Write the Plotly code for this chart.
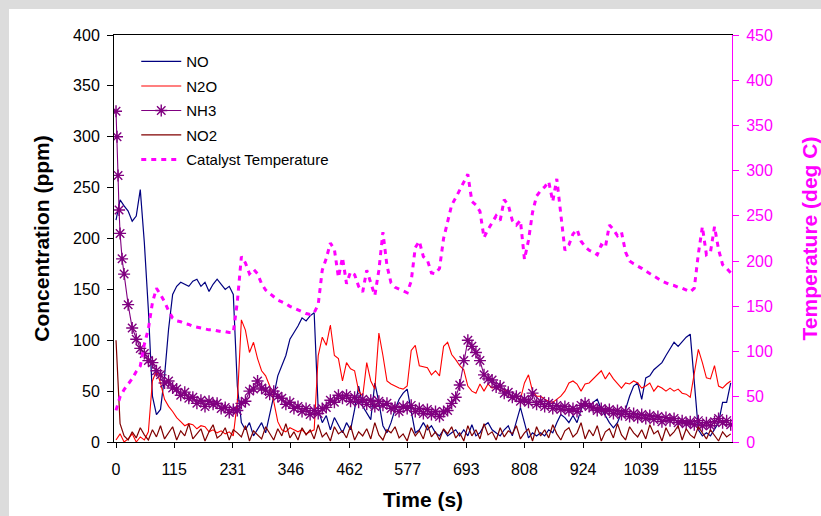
import plotly.graph_objects as go

# ---------------- data ----------------
time_s = list(range(0, 1217, 8))  # sampling grid, 153 points

no_ppm = [
    218, 238, 232, 227, 217, 222, 248, 196, 130, 45,
    27, 32, 65, 111, 145, 153, 157, 155, 153, 158,
    160, 153, 157, 148, 155, 160, 155, 150, 153, 145,
    55, 19, 12, 19, 6, 12, 19, 9, 26, 45,
    65, 75, 85, 101, 107, 114, 122, 119, 124, 127,
    32, 19, 26, 12, 24, 16, 9, 19, 12, 32,
    55, 35, 29, 22, 58, 39, 16, 9, 19, 32,
    42, 48, 52, 32, 9, 12, 19, 12, 16, 9,
    6, 12, 6, 9, 12, 6, 12, 6, 17, 6,
    9, 16, 19, 12, 9, 6, 12, 16, 6, 19,
    34, 19, 4, 9, 6, 9, 6, 12, 9, 19,
    27, 24, 19, 26, 19, 32, 39, 34, 39, 42,
    32, 26, 19, 14, 19, 29, 32, 45, 55, 58,
    42, 63, 65, 71, 75, 78, 85, 91, 98, 94,
    99, 103, 106, 55, 12, 6, 9, 6, 12, 19,
    39, 39, 58,
]

n2o_ppm = [
    2, 8, 0, 3, 8, 0, 5, 2, 10, 60,
    70, 58, 42, 35, 30, 24, 20, 16, 18, 17,
    13, 16, 15, 10, 12, 9, 11, 8, 10, 6,
    40, 120, 110, 88, 98, 82, 70, 65, 55, 40,
    20, 12, 10, 14, 12, 10, 12, 8, 10, 12,
    85, 103, 95, 115, 85, 82, 60, 78, 72, 70,
    50, 45, 78, 60, 52, 107, 85, 60, 57, 55,
    53, 52, 55, 90, 95, 75, 74, 73, 66, 70,
    65, 94, 98, 86, 81, 75, 71, 55, 50, 48,
    57, 50, 57, 53, 55, 50, 52, 47, 45, 44,
    42, 58, 66, 50, 45, 45, 42, 40, 39, 42,
    45, 50, 58, 60, 57, 50, 57, 58, 62, 66,
    70, 62, 68, 62, 58, 53, 58, 57, 60, 58,
    53, 55, 58, 50, 55, 53, 50, 53, 50, 52,
    48, 47, 44, 68, 91, 78, 63, 62, 75, 55,
    53, 57, 60,
]

no2_ppm = [
    100, 18, 6, 2, 10, 4, 14, 7, 2, 12,
    5, 16, 3, 9, 15, 2, 11, 6, 18, 3,
    8, 13, 1, 10, 17, 4, 7, 14, 2, 12,
    9, 5, 16, 1, 11, 7, 3, 15, 8, 2,
    13, 6, 18, 4, 10, 2, 14, 7, 12, 3,
    17, 5, 9, 1, 15, 8, 11, 4, 16, 2,
    10, 6, 13, 3, 19, 7, 2, 12, 9, 15,
    4, 8, 1, 14, 6, 11, 3, 17, 5, 10,
    2, 13, 8, 15, 4, 9, 1, 16, 6, 12,
    3, 18, 7, 10, 2, 14, 5, 11, 8, 16,
    3, 9, 13, 1, 15, 6, 12, 4, 17, 8,
    2, 11, 14, 5, 9, 19, 3, 12, 6, 16,
    1, 10, 13, 4, 18, 7, 2, 15, 9, 5,
    12, 3, 17, 8, 11, 1, 14, 6, 10, 16,
    2, 13, 7, 4, 15, 9, 3, 12, 6, 1,
    10, 5, 8,
]

nh3_time_s = [0, 2, 4, 6, 8, 12] + list(range(16, 1217, 8))
nh3_ppm = [
    325, 300, 262, 228, 205, 180,
    165, 135, 112, 101, 92, 87, 80, 78,
    70, 66, 58, 60, 53, 52, 46, 49, 43, 44,
    38, 41, 35, 40, 37, 38, 33, 34, 29, 32,
    31, 38, 40, 50, 52, 60, 53, 51, 47, 50,
    45, 43, 37, 39, 33, 35, 30, 33, 27, 31,
    28, 33, 34, 41, 39, 46, 43, 46, 40, 44,
    39, 42, 37, 41, 35, 40, 36, 38, 33, 34,
    30, 35, 33, 36, 30, 33, 28, 32, 27, 30,
    25, 30, 31, 38, 44, 56, 80, 100, 94, 88,
    80, 66, 62, 61, 54, 55, 48, 49, 44, 45,
    40, 42, 39, 48, 37, 40, 35, 38, 33, 36,
    32, 35, 31, 33, 30, 36, 38, 35, 34, 31,
    33, 30, 32, 28, 31, 27, 30, 25, 28, 24,
    27, 23, 26, 22, 25, 20, 24, 21, 23, 19,
    21, 18, 20, 17, 21, 16, 19, 16, 20, 23,
    19, 21, 17,
]

cat_temp_c = [
    35, 50, 58, 64, 70, 78, 84, 108, 125, 154,
    170, 163, 155, 145, 137, 134, 133, 131, 130, 128,
    127, 126, 125, 124, 124, 123, 122, 122, 121, 121,
    155, 205, 198, 186, 191, 186, 175, 168, 164, 160,
    157, 155, 153, 150, 148, 146, 144, 142, 141, 143,
    152, 190, 203, 220, 213, 182, 204, 175, 188, 185,
    172, 166, 190, 176, 162, 190, 232, 195, 176, 171,
    169, 167, 165, 178, 215, 222, 205, 201, 187, 186,
    192, 225, 245, 262, 270, 279, 288, 296, 266, 262,
    255, 226, 235, 242, 250, 245, 268, 262, 245, 240,
    245, 202, 223, 254, 272, 278, 282, 288, 266, 291,
    250, 212, 218, 230, 235, 222, 216, 212, 210, 207,
    218, 215, 240, 235, 228, 232, 210, 200, 197, 194,
    192, 189, 186, 184, 181, 178, 176, 174, 173, 171,
    170, 168, 166, 170, 208, 238, 207, 210, 238, 213,
    196, 192, 187,
]

x_tick_vals = [0, 115, 231, 346, 462, 577, 693, 808, 924, 1039, 1155]
x_tick_text = ["0", "115", "231", "346", "462", "577", "693", "808", "924", "1039", "1155"]

# ---------------- figure ----------------
FONT = "Liberation Sans, Arial, sans-serif"
MAG = "#FF00FF"

fig = go.Figure()
fig.add_trace(go.Scatter(x=time_s, y=no_ppm, name="NO", mode="lines",
                         line=dict(color="#000080", width=1.2), legendgroup="a"))
fig.add_trace(go.Scatter(x=time_s, y=n2o_ppm, name="N2O", mode="lines",
                         line=dict(color="#FF0000", width=1.1), legendgroup="b"))
fig.add_trace(go.Scatter(x=nh3_time_s, y=nh3_ppm, name="NH3", mode="lines+markers",
                         line=dict(color="#800080", width=1.1),
                         marker=dict(symbol="asterisk-open", size=10,
                                     line=dict(color="#800080", width=1.4)),
                         legendgroup="c"))
fig.add_trace(go.Scatter(x=time_s, y=no2_ppm, name="NO2", mode="lines",
                         line=dict(color="#800000", width=1.2), legendgroup="d"))
fig.add_trace(go.Scatter(x=time_s, y=cat_temp_c, name="Catalyst Temperature", mode="lines",
                         line=dict(color=MAG, width=3, dash="5px,5px"),
                         yaxis="y2", legendgroup="e"))

fig.update_layout(
    width=821, height=516, autosize=False,
    margin=dict(l=114, r=89, t=35, b=74, pad=0),
    paper_bgcolor="#dcdcdc", plot_bgcolor="white",
    font=dict(family=FONT, size=16, color="black"),
    showlegend=True,
    legend=dict(x=0.036, y=0.975, xanchor="left", yanchor="top",
                bgcolor="rgba(0,0,0,0)", borderwidth=0,
                font=dict(family=FONT, size=15, color="black"),
                tracegroupgap=2, itemwidth=40),
    xaxis=dict(range=[-4, 1218.6], tickvals=x_tick_vals, ticktext=x_tick_text,
               automargin=False,
               showgrid=False, zeroline=False, showline=True, linecolor="black",
               linewidth=1, mirror=True, ticks="outside", ticklen=5, tickcolor="black",
               tickfont=dict(family=FONT, size=16, color="black"),
               ticklabelstandoff=8,
               title=dict(text="<b>Time (s)</b>", font=dict(family=FONT, size=21, color="black"),
                          standoff=15)),
    yaxis=dict(range=[0, 400], dtick=50, showgrid=False, zeroline=False, automargin=False,
               showline=True, linecolor="black", linewidth=1,
               ticks="outside", ticklen=6, tickcolor="black",
               tickfont=dict(family=FONT, size=16, color="black"),
               ticklabelstandoff=4,
               title=dict(text="<b>Concentration (ppm)</b>",
                          font=dict(family=FONT, size=21, color="black"), standoff=17)),
    yaxis2=dict(range=[0, 450], dtick=50, overlaying="y", side="right", anchor="x",
                automargin=False,
                showgrid=False, zeroline=False, showline=True, linecolor=MAG, linewidth=1,
                ticks="outside", ticklen=6, tickcolor=MAG,
                tickfont=dict(family=FONT, size=16, color=MAG),
                ticklabelstandoff=4,
                title=dict(text="<b>Temperature (deg C)</b>",
                           font=dict(family=FONT, size=21, color=MAG), standoff=30)),
    yaxis3=dict(range=[0, 400], dtick=50, overlaying="y", side="left", anchor="x",
                automargin=False,
                showgrid=False, zeroline=False, showline=False, showticklabels=False,
                ticks="inside", ticklen=6, tickcolor="black"),
    yaxis4=dict(range=[0, 450], dtick=50, overlaying="y", side="right", anchor="x",
                automargin=False,
                showgrid=False, zeroline=False, showline=False, showticklabels=False,
                ticks="inside", ticklen=6, tickcolor=MAG),
    shapes=[dict(type="rect", xref="paper", yref="paper",
                 x0=(9 - 114) / 618, x1=2, y0=-1, y1=(442 - 9) / 407,
                 fillcolor="white", line=dict(width=0), layer="below")],
)

fig.write_html("out.html", config={"displayModeBar": False})
